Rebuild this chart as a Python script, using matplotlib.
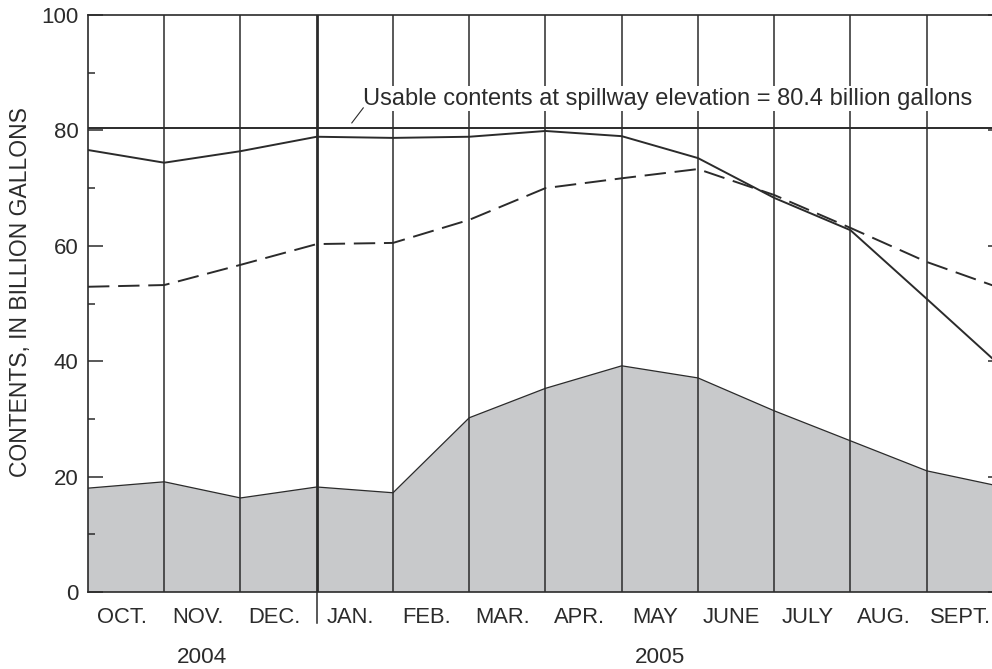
import numpy as np
import matplotlib
matplotlib.use("Agg")
import matplotlib.pyplot as plt
import matplotlib.transforms as mtransforms

plt.rcParams['font.family'] = ['Liberation Sans', 'DejaVu Sans']

# month labels (water year Oct 2004 - Sept 2005)
months = ['OCT.', 'NOV.', 'DEC.', 'JAN.', 'FEB.', 'MAR.', 'APR.',
          'MAY', 'JUNE', 'JULY', 'AUG.', 'SEPT.']
years = ['2004', '2005']

# end-of-month contents, billion gallons (first value = start of October)
solid_contents = [76.6, 74.4, 76.4, 78.9, 78.7, 78.9, 79.9, 79.0, 75.2,
                  68.3, 62.7, 50.8, 38.8]
dashed_contents = [52.9, 53.2, 56.7, 60.3, 60.5, 64.5, 70.0, 71.7, 73.3,
                   68.8, 63.1, 57.2, 52.5]
minimum_contents = [18.0, 19.1, 16.3, 18.2, 17.2, 30.2, 35.3, 39.2, 37.1,
                    31.4, 26.2, 21.0, 18.2]
spillway = 80.4

ink = '#2b2b2b'

fig = plt.figure(figsize=(9.92, 6.69), dpi=100)
# axes runs past the right edge, like the cropped original
ax = fig.add_axes([88 / 992, 1 - 592 / 669, (1003 - 88) / 992, (592 - 15) / 669])

x = np.arange(len(solid_contents))

ax.fill_between(x, 0, minimum_contents, color='#c8c9cb', edgecolor='none', zorder=1)
ax.plot(x, minimum_contents, color=ink, lw=0.9, zorder=3)

# month divider lines
for i in range(1, 12):
    ax.axvline(i, color=ink, lw=2.0 if i == 3 else 1.1, zorder=2)

ax.plot(x, solid_contents, color=ink, lw=1.4, zorder=4)
ax.plot(x, dashed_contents, color=ink, lw=1.4, dashes=(11, 4.5), zorder=4)

ax.axhline(spillway, color=ink, lw=1.4, zorder=4)
ax.text(3.61, 85.5, 'Usable contents at spillway elevation = 80.4 billion gallons',
        fontsize=17, color=ink, ha='left', va='center',
        bbox=dict(boxstyle='square,pad=0.05', fc='white', ec='none'), zorder=5)
ax.plot([3.46, 3.61], [81.3, 83.9], color=ink, lw=0.8, zorder=5)

# year divider below the axis
trans = mtransforms.blended_transform_factory(ax.transData, ax.transAxes)
ax.plot([3, 3], [0, -0.054], transform=trans, color=ink, lw=1.1, clip_on=False)

ax.set_xlim(0, 12)
ax.set_ylim(0, 100)
ax.set_xticks(np.arange(12) + 0.44)
ax.set_xticklabels(months, fontsize=15.8, color=ink)
ax.tick_params(axis='x', length=0, pad=11)

ax.set_yticks(np.arange(0, 101, 20))
ax.set_yticks(np.arange(10, 100, 20), minor=True)
ax.tick_params(axis='y', which='major', direction='in', length=11, width=1.1,
               right=True, labelsize=16, colors=ink, pad=7)
ax.tick_params(axis='y', which='minor', direction='in', length=5, width=1.1,
               right=True, colors=ink)

ax.text(1.5, -0.113, years[0], transform=trans, ha='center', va='center',
        fontsize=16.2, color=ink)
ax.text(7.5, -0.113, years[1], transform=trans, ha='center', va='center',
        fontsize=16.2, color=ink)

ax.set_ylabel('CONTENTS, IN BILLION GALLONS', fontsize=16.5, color=ink)
ax.yaxis.set_label_coords(-0.061, 0.52)

for s in ax.spines.values():
    s.set_color(ink)
    s.set_linewidth(1.2)

fig.savefig('out.png', dpi=100)
